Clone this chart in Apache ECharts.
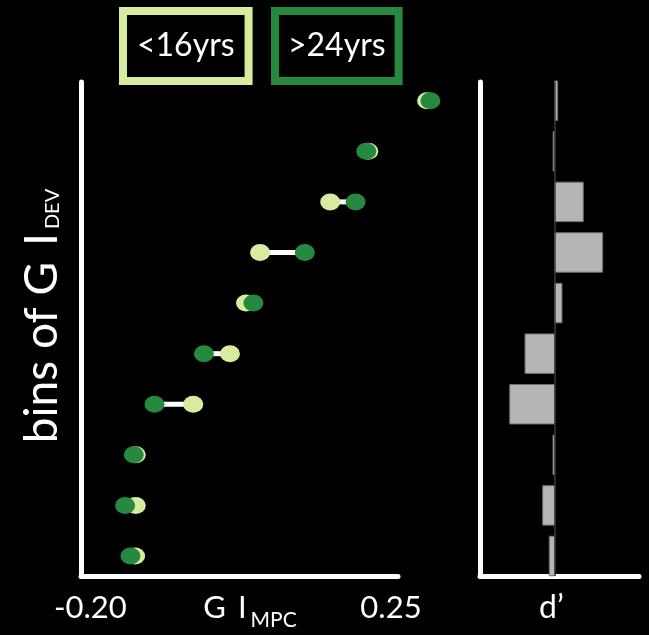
<!DOCTYPE html>
<html>
<head>
<meta charset="utf-8">
<script src="https://cdn.jsdelivr.net/npm/echarts@6/dist/echarts.min.js"></script>
<style>
  html, body { margin: 0; padding: 0; background: #000; }
  #main { width: 649px; height: 635px; }
</style>
</head>
<body>
<div id="main"></div>
<script>
// bins of GI_DEV, 1 = bottom row, 10 = top row
let bins = [1, 2, 3, 4, 5, 6, 7, 8, 9, 10];
// GI_MPC per bin, for each age group
let young = [-0.133, -0.132, -0.132, -0.046, 0.009, 0.033, 0.054, 0.159, 0.216, 0.304];
let old = [-0.140, -0.148, -0.135, -0.104, -0.030, 0.044, 0.121, 0.197, 0.213, 0.309];
// d' per bin
let dPrime = [-0.072, -0.160, -0.022, -0.602, -0.397, 0.098, 0.643, 0.383, -0.020, 0.040];
let xTicks = [-0.2, 0.25];
let groups = ['<16yrs', '>24yrs'];

const lightGreen = '#d7ec9f';
const darkGreen = '#25893f';
const white = '#ffffff';

let pairData = bins.map((b, i) => [b, young[i], old[i]]);
let youngData = bins.map((b, i) => [young[i], b]);
let oldData = bins.map((b, i) => [old[i], b]);
let dData = bins.map((b, i) => [b, dPrime[i]]);

function renderPair(params, api) {
    let y = api.value(0);
    let a = api.coord([api.value(1), y]);
    let b = api.coord([api.value(2), y]);
    return {
        type: 'line',
        shape: { x1: a[0], y1: a[1], x2: b[0], y2: b[1] },
        style: { stroke: white, lineWidth: 5 }
    };
}

function renderBar(params, api) {
    let y = api.value(0);
    let p0 = api.coord([0, y]);
    let p1 = api.coord([api.value(1), y]);
    let h = api.size([0, 0.78])[1];
    return {
        type: 'rect',
        shape: {
            x: Math.min(p0[0], p1[0]),
            y: p0[1] - h / 2,
            width: Math.abs(p1[0] - p0[0]),
            height: h
        },
        style: { fill: '#b5b5b5', stroke: '#6e6e6e', lineWidth: 1 }
    };
}

const option = {
    backgroundColor: '#000',
    textStyle: { fontFamily: 'Lato' },
    animation: false,
    legend: [
        {
            data: [groups[0]],
            left: 123, top: 11,
            padding: [15, 14, 15, 9],
            borderColor: lightGreen, borderWidth: 8,
            itemWidth: 0, itemHeight: 0,
            textStyle: { color: white, fontSize: 32, lineHeight: 40 }
        },
        {
            data: [groups[1]],
            left: 275, top: 11,
            padding: [15, 13, 15, 8],
            borderColor: darkGreen, borderWidth: 8,
            itemWidth: 0, itemHeight: 0,
            textStyle: { color: white, fontSize: 32, lineHeight: 40 }
        }
    ],
    grid: [
        { left: 81, top: 82, width: 317, height: 494, outerBoundsMode: 'none' },
        { left: 480, top: 82, width: 159, height: 494, outerBoundsMode: 'none' }
    ],
    xAxis: [
        {
            gridIndex: 0,
            type: 'value',
            min: -0.214,
            max: 0.2605,
            axisLine: { onZero: false, lineStyle: { color: white, width: 5 } },
            axisTick: { show: false },
            splitLine: { show: false },
            axisLabel: {
                customValues: xTicks,
                formatter: v => v.toFixed(2),
                color: white,
                fontSize: 31,
                margin: 16
            },
            name: '{b|G}{i|I}{s|MPC}',
            nameLocation: 'middle',
            nameGap: 16,
            nameMoveOverlap: false,
            nameTextStyle: {
                padding: [0, 0, 0, 21],
                rich: {
                    b: { color: white, fontSize: 31, lineHeight: 36, verticalAlign: 'top' },
                    i: { color: white, fontSize: 31, lineHeight: 36, verticalAlign: 'top', padding: [0, 0, 0, 12] },
                    s: { color: white, fontSize: 21, lineHeight: 24, verticalAlign: 'top', padding: [18, 0, 0, 4] }
                }
            }
        },
        {
            gridIndex: 1,
            type: 'value',
            min: -1,
            max: 1.13,
            axisLine: { onZero: false, lineStyle: { color: white, width: 5 } },
            axisTick: { show: false },
            axisLabel: { show: false },
            splitLine: { show: false },
            name: 'd\u2019',
            nameLocation: 'middle',
            nameGap: 16,
            nameMoveOverlap: false,
            nameTextStyle: { color: white, fontSize: 32, padding: [0, 16, 0, 0] }
        }
    ],
    yAxis: [
        {
            gridIndex: 0,
            type: 'value',
            min: 0.605,
            max: 10.37,
            axisLine: { onZero: false, lineStyle: { color: white, width: 5 } },
            axisTick: { show: false },
            axisLabel: { show: false },
            splitLine: { show: false },
            name: '{b|bins of G}{i|I}{s|DEV}',
            nameLocation: 'middle',
            nameRotate: 90,
            nameGap: 12,
            nameMoveOverlap: false,
            nameTextStyle: {
                padding: [0, 0, 0, 26],
                rich: {
                    b: { color: white, fontSize: 46, lineHeight: 50, verticalAlign: 'top' },
                    i: { color: white, fontSize: 46, lineHeight: 50, verticalAlign: 'top', padding: [0, 0, 0, 16] },
                    s: { color: white, fontSize: 20, lineHeight: 24, verticalAlign: 'top', padding: [24, 0, 0, 4] }
                }
            }
        },
        {
            gridIndex: 1,
            type: 'value',
            min: 0.605,
            max: 10.37,
            axisLine: { onZero: false, lineStyle: { color: white, width: 5 } },
            axisTick: { show: false },
            axisLabel: { show: false },
            splitLine: { show: false }
        }
    ],
    series: [
        {
            type: 'custom',
            name: 'pair',
            xAxisIndex: 0, yAxisIndex: 0,
            renderItem: renderPair,
            encode: { x: [1, 2], y: 0 },
            data: pairData,
            z: 1,
            silent: true
        },
        {
            type: 'scatter',
            name: groups[0],
            xAxisIndex: 0, yAxisIndex: 0,
            symbol: 'circle',
            symbolSize: [20, 17],
            itemStyle: { color: lightGreen, opacity: 1 },
            data: youngData,
            clip: false,
            z: 2
        },
        {
            type: 'scatter',
            name: groups[1],
            xAxisIndex: 0, yAxisIndex: 0,
            symbol: 'circle',
            symbolSize: [20, 17],
            itemStyle: { color: darkGreen, opacity: 1 },
            data: oldData,
            clip: false,
            z: 3
        },
        {
            type: 'custom',
            name: "d'",
            xAxisIndex: 1, yAxisIndex: 1,
            renderItem: renderBar,
            encode: { x: 1, y: 0 },
            data: dData,
            z: 2,
            markLine: {
                silent: true,
                symbol: 'none',
                label: { show: false },
                lineStyle: { color: '#3a3a3a', width: 1.5, type: 'solid' },
                data: [{ xAxis: 0 }]
            }
        }
    ]
};

let plot = echarts.init(document.querySelector('#main'));
plot.setOption(option);
</script>
</body>
</html>
